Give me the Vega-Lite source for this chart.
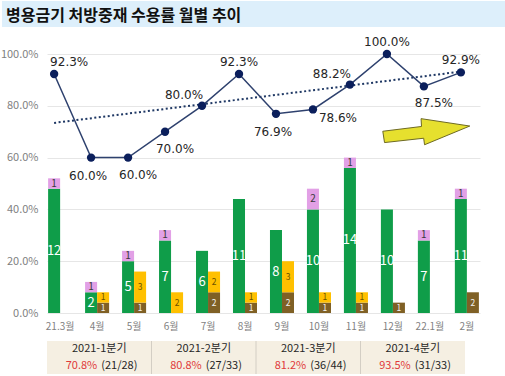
{
  "$schema": "https://vega.github.io/schema/vega-lite/v6.json",
  "padding": {"left": 0, "top": 1, "right": 0, "bottom": 0},
  "spacing": 9,
  "background": "#FFFFFF",
  "config": {"view": {"stroke": null}, "font": "Noto Sans CJK KR"},
  "vconcat": [
    {
      "width": 460,
      "height": 26,
      "data": {"values": [{"t": "병용금기 처방중재 수용률 월별 추이"}]},
      "layer": [
        {
          "mark": {"type": "rect", "color": "#DDEFFB"},
          "encoding": {
            "x": {"datum": 0, "type": "quantitative", "scale": {"domain": [0.0891, 1]}, "axis": null},
            "x2": {"datum": 1}
          }
        },
        {
          "mark": {"type": "text", "align": "left", "baseline": "middle", "dx": -271, "dy": 2, "fontSize": 16, "fontWeight": "bold", "font": "Noto Sans CJK KR", "color": "#111111"},
          "encoding": {"text": {"field": "t", "type": "nominal"}}
        }
      ]
    },
    {
      "width": 433,
      "height": 259,
      "layer": [
        {
          "data": {"values": [
            {"month": "21.3월", "grp": "L", "type": "수용", "n": 12},
            {"month": "21.3월", "grp": "L", "type": "미수용", "n": 1},
            {"month": "4월", "grp": "L", "type": "수용", "n": 2},
            {"month": "4월", "grp": "L", "type": "미수용", "n": 1},
            {"month": "4월", "grp": "R", "type": "수용", "n": 1},
            {"month": "4월", "grp": "R", "type": "미수용", "n": 1},
            {"month": "5월", "grp": "L", "type": "수용", "n": 5},
            {"month": "5월", "grp": "L", "type": "미수용", "n": 1},
            {"month": "5월", "grp": "R", "type": "수용", "n": 1},
            {"month": "5월", "grp": "R", "type": "미수용", "n": 3},
            {"month": "6월", "grp": "L", "type": "수용", "n": 7},
            {"month": "6월", "grp": "L", "type": "미수용", "n": 1},
            {"month": "6월", "grp": "R", "type": "미수용", "n": 2},
            {"month": "7월", "grp": "L", "type": "수용", "n": 6},
            {"month": "7월", "grp": "R", "type": "수용", "n": 2},
            {"month": "7월", "grp": "R", "type": "미수용", "n": 2},
            {"month": "8월", "grp": "L", "type": "수용", "n": 11},
            {"month": "8월", "grp": "R", "type": "수용", "n": 1},
            {"month": "8월", "grp": "R", "type": "미수용", "n": 1},
            {"month": "9월", "grp": "L", "type": "수용", "n": 8},
            {"month": "9월", "grp": "R", "type": "수용", "n": 2},
            {"month": "9월", "grp": "R", "type": "미수용", "n": 3},
            {"month": "10월", "grp": "L", "type": "수용", "n": 10},
            {"month": "10월", "grp": "L", "type": "미수용", "n": 2},
            {"month": "10월", "grp": "R", "type": "수용", "n": 1},
            {"month": "10월", "grp": "R", "type": "미수용", "n": 1},
            {"month": "11월", "grp": "L", "type": "수용", "n": 14},
            {"month": "11월", "grp": "L", "type": "미수용", "n": 1},
            {"month": "11월", "grp": "R", "type": "수용", "n": 1},
            {"month": "11월", "grp": "R", "type": "미수용", "n": 1},
            {"month": "12월", "grp": "L", "type": "수용", "n": 10},
            {"month": "12월", "grp": "R", "type": "수용", "n": 1},
            {"month": "22.1월", "grp": "L", "type": "수용", "n": 7},
            {"month": "22.1월", "grp": "L", "type": "미수용", "n": 1},
            {"month": "2월", "grp": "L", "type": "수용", "n": 11},
            {"month": "2월", "grp": "L", "type": "미수용", "n": 1},
            {"month": "2월", "grp": "R", "type": "수용", "n": 2}
          ]},
          "transform": [
            {"calculate": "datum.grp + datum.type", "as": "key"},
            {"stack": "n", "groupby": ["month", "grp"], "sort": [{"field": "type", "order": "descending"}], "as": ["y0", "y1"]},
            {"calculate": "(datum.y0 + datum.y1) / 2", "as": "ym"}
          ],
          "encoding": {
            "x": {
              "field": "month", "type": "nominal", "title": null,
              "scale": {"domain": ["21.3월", "4월", "5월", "6월", "7월", "8월", "9월", "10월", "11월", "12월", "22.1월", "2월"], "paddingInner": 0.35, "paddingOuter": 0.03},
              "axis": {"bandPosition": 0.25, "domain": false, "ticks": false, "grid": false, "labelAngle": 0, "labelColor": "#7F7F7F", "labelFontSize": 10, "labelFont": "Noto Sans CJK KR", "labelPadding": 8, "minExtent": 18, "maxExtent": 18, "title": null}
            },
            "xOffset": {"field": "grp", "type": "nominal", "scale": {"domain": ["L", "R"], "paddingInner": 0, "paddingOuter": 0}}
          },
          "layer": [
            {
              "mark": {"type": "bar"},
              "encoding": {
                "y": {"field": "y0", "type": "quantitative", "title": null, "scale": {"domain": [0, 25]},
                  "axis": {"orient": "right", "values": [0, 5, 10, 15, 20, 25], "grid": false, "domain": false, "ticks": false, "labelColor": "#7F7F7F", "labelFontSize": 11, "labelFont": "Noto Sans CJK KR", "labelPadding": 9, "title": null}},
                "y2": {"field": "y1"},
                "color": {"field": "key", "type": "nominal", "legend": null,
                  "scale": {"domain": ["L수용", "L미수용", "R수용", "R미수용"], "range": ["#0F9D49", "#E2A0E6", "#7F6025", "#FFC000"]}}
              }
            },
            {
              "transform": [{"filter": "datum.key == 'L수용'"}],
              "mark": {"type": "text", "baseline": "middle", "fontSize": 13, "font": "Noto Sans CJK KR", "color": "#FFFFFF"},
              "encoding": {
                "y": {"field": "ym", "type": "quantitative", "title": null, "scale": {"domain": [0, 25]}, "axis": null},
                "text": {"field": "n", "type": "quantitative"}
              }
            },
            {
              "transform": [{"filter": "datum.key == 'L미수용'"}],
              "mark": {"type": "text", "baseline": "middle", "fontSize": 10, "font": "Noto Sans CJK KR", "color": "#3A3A3A"},
              "encoding": {
                "y": {"field": "ym", "type": "quantitative", "title": null, "scale": {"domain": [0, 25]}, "axis": null},
                "text": {"field": "n", "type": "quantitative"}
              }
            },
            {
              "transform": [{"filter": "datum.grp == 'R'"}],
              "mark": {"type": "text", "baseline": "middle", "fontSize": 8.5, "font": "Noto Sans CJK KR"},
              "encoding": {
                "y": {"field": "ym", "type": "quantitative", "title": null, "scale": {"domain": [0, 25]}, "axis": null},
                "text": {"field": "n", "type": "quantitative"},
                "fill": {"field": "key", "type": "nominal", "legend": null,
                  "scale": {"domain": ["R수용", "R미수용"], "range": ["#F2F2F2", "#6B5000"]}}
              }
            }
          ]
        },
        {
          "data": {"values": [
            {"month": "21.3월", "rate": 0.923},
            {"month": "4월", "rate": 0.6},
            {"month": "5월", "rate": 0.6},
            {"month": "6월", "rate": 0.7},
            {"month": "7월", "rate": 0.8},
            {"month": "8월", "rate": 0.923},
            {"month": "9월", "rate": 0.769},
            {"month": "10월", "rate": 0.786},
            {"month": "11월", "rate": 0.882},
            {"month": "12월", "rate": 1.0},
            {"month": "22.1월", "rate": 0.875},
            {"month": "2월", "rate": 0.929}
          ]},
          "encoding": {
            "x": {"field": "month", "type": "nominal", "title": null, "bandPosition": 0.25,
              "scale": {"domain": ["21.3월", "4월", "5월", "6월", "7월", "8월", "9월", "10월", "11월", "12월", "22.1월", "2월"]}}
          },
          "layer": [
            {
              "data": {"values": [
                {"month": "21.3월", "v": 0.734},
                {"month": "2월", "v": 0.932}
              ]},
              "mark": {"type": "line", "strokeDash": [2, 2.5], "strokeWidth": 2, "color": "#1F3864"},
              "encoding": {
                "y": {"field": "v", "type": "quantitative", "title": null, "scale": {"domain": [0, 1]},
                  "axis": {"orient": "left", "values": [0, 0.2, 0.4, 0.6, 0.8, 1], "format": ".1%", "grid": true, "gridColor": "#E6E6E6", "gridWidth": 1, "domain": false, "ticks": false, "labelColor": "#7F7F7F", "labelFontSize": 11, "labelFont": "Noto Sans CJK KR", "labelPadding": 9, "minExtent": 45, "maxExtent": 45, "title": null}}
              }
            },
            {
              "mark": {"type": "line", "color": "#2E416E", "strokeWidth": 1.5},
              "encoding": {"y": {"field": "rate", "type": "quantitative", "title": null, "scale": {"domain": [0, 1]}}}
            },
            {
              "mark": {"type": "circle", "size": 70, "color": "#0B1F5C", "opacity": 1},
              "encoding": {"y": {"field": "rate", "type": "quantitative", "title": null, "scale": {"domain": [0, 1]}}}
            },
            {
              "transform": [{"filter": "indexof(['8월','12월','2월'], datum.month) >= 0"}],
              "mark": {"type": "text", "baseline": "middle", "dy": -12, "fontSize": 12, "font": "DejaVu Sans", "color": "#262626"},
              "encoding": {"y": {"field": "rate", "type": "quantitative", "title": null, "scale": {"domain": [0, 1]}}, "text": {"field": "rate", "type": "quantitative", "format": ".1%"}}
            },
            {
              "transform": [{"filter": "datum.month == '21.3월'"}],
              "mark": {"type": "text", "baseline": "middle", "align": "left", "dx": -4, "dy": -12, "fontSize": 12, "font": "DejaVu Sans", "color": "#262626"},
              "encoding": {"y": {"field": "rate", "type": "quantitative", "title": null, "scale": {"domain": [0, 1]}}, "text": {"field": "rate", "type": "quantitative", "format": ".1%"}}
            },
            {
              "transform": [{"filter": "indexof(['4월','9월'], datum.month) >= 0"}],
              "mark": {"type": "text", "baseline": "middle", "dx": -3, "dy": 18, "fontSize": 12, "font": "DejaVu Sans", "color": "#262626"},
              "encoding": {"y": {"field": "rate", "type": "quantitative", "title": null, "scale": {"domain": [0, 1]}}, "text": {"field": "rate", "type": "quantitative", "format": ".1%"}}
            },
            {
              "transform": [{"filter": "indexof(['5월','6월','22.1월'], datum.month) >= 0"}],
              "mark": {"type": "text", "baseline": "middle", "dx": 10, "dy": 17, "fontSize": 12, "font": "DejaVu Sans", "color": "#262626"},
              "encoding": {"y": {"field": "rate", "type": "quantitative", "title": null, "scale": {"domain": [0, 1]}}, "text": {"field": "rate", "type": "quantitative", "format": ".1%"}}
            },
            {
              "transform": [{"filter": "indexof(['7월','11월'], datum.month) >= 0"}],
              "mark": {"type": "text", "baseline": "middle", "dx": -18, "dy": -11, "fontSize": 12, "font": "DejaVu Sans", "color": "#262626"},
              "encoding": {"y": {"field": "rate", "type": "quantitative", "title": null, "scale": {"domain": [0, 1]}}, "text": {"field": "rate", "type": "quantitative", "format": ".1%"}}
            },
            {
              "transform": [{"filter": "datum.month == '10월'"}],
              "mark": {"type": "text", "baseline": "middle", "dx": 25, "dy": 9, "fontSize": 12, "font": "DejaVu Sans", "color": "#262626"},
              "encoding": {"y": {"field": "rate", "type": "quantitative", "title": null, "scale": {"domain": [0, 1]}}, "text": {"field": "rate", "type": "quantitative", "format": ".1%"}}
            },
            {
              "data": {"values": [{}]},
              "mark": {"type": "point", "shape": "M-1,-0.01L-0.11,-0.12L-0.12,-0.3L1,-0.13L-0.04,0.3L-0.06,0.15L-0.96,0.25Z", "size": 7569, "filled": true, "fill": "#E6E02E", "stroke": "#6E6A22", "strokeWidth": 1, "opacity": 1},
              "encoding": {
                "x": {"datum": "22.1월", "bandPosition": 0.35, "scale": {"domain": ["21.3월", "4월", "5월", "6월", "7월", "8월", "9월", "10월", "11월", "12월", "22.1월", "2월"]}},
                "y": {"datum": 0.7, "type": "quantitative", "scale": {"domain": [0, 1]}}
              }
            }
          ]
        }
      ],
      "resolve": {"scale": {"y": "independent"}}
    },
    {
      "width": 418,
      "height": 33,
      "data": {"values": [
        {"q": "2021-1분기", "rate": 0.708, "acc": 21, "tot": 28},
        {"q": "2021-2분기", "rate": 0.808, "acc": 27, "tot": 33},
        {"q": "2021-3분기", "rate": 0.812, "acc": 36, "tot": 44},
        {"q": "2021-4분기", "rate": 0.935, "acc": 31, "tot": 33}
      ]},
      "transform": [{"calculate": "'(' + datum.acc + '/' + datum.tot + ')'", "as": "frac"}],
      "encoding": {
        "x": {"field": "q", "type": "nominal", "title": null, "scale": {"paddingInner": 0, "paddingOuter": 0}, "axis": null}
      },
      "layer": [
        {"mark": {"type": "rect", "color": "#F5EFE2"}},
        {
          "transform": [{"filter": "datum.q != '2021-1분기'"}],
          "mark": {"type": "rule", "color": "#D3CEC4", "strokeWidth": 1},
          "encoding": {"x": {"field": "q", "type": "nominal", "bandPosition": 0}}
        },
        {
          "mark": {"type": "text", "baseline": "middle", "dy": -8.5, "fontSize": 11, "font": "Noto Sans CJK KR", "color": "#262626"},
          "encoding": {"text": {"field": "q", "type": "nominal"}}
        },
        {
          "mark": {"type": "text", "baseline": "middle", "align": "right", "dx": -2, "dy": 8.5, "fontSize": 11, "font": "Noto Sans CJK KR", "color": "#E03A3A"},
          "encoding": {"text": {"field": "rate", "type": "quantitative", "format": ".1%"}}
        },
        {
          "mark": {"type": "text", "baseline": "middle", "align": "left", "dx": 2, "dy": 8.5, "fontSize": 11, "font": "Noto Sans CJK KR", "color": "#262626"},
          "encoding": {"text": {"field": "frac", "type": "nominal"}}
        }
      ]
    }
  ]
}
